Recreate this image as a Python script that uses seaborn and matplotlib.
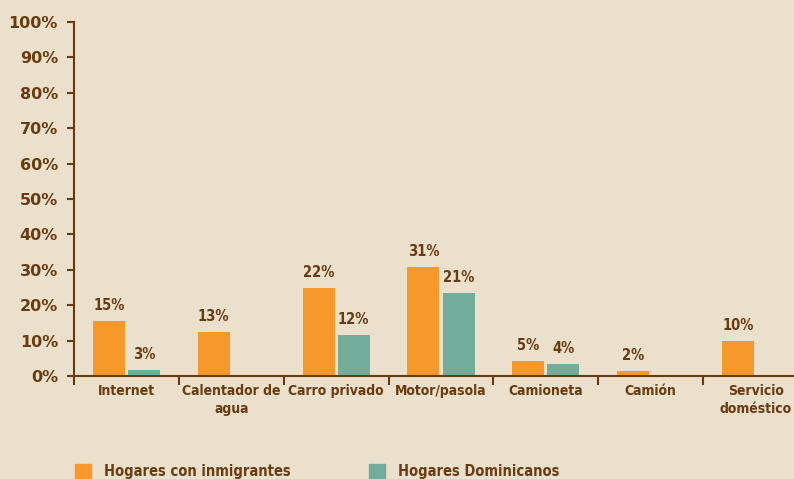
import numpy as np
import pandas as pd
import seaborn as sns
import matplotlib.pyplot as plt
from matplotlib.patches import Patch

categories = ['Internet', 'Calentador de\nagua', 'Carro privado', 'Motor/pasola',
              'Camioneta', 'Camión', 'Servicio\ndoméstico']
inmigrantes = [15.5, 12.4, 24.9, 30.8, 4.2, 1.4, 9.9]
dominicanos = [1.7, np.nan, 11.6, 23.4, 3.4, np.nan, np.nan]
lab_inm = ['15%', '13%', '22%', '31%', '5%', '2%', '10%']
lab_dom = ['3%', '', '12%', '21%', '4%', '', '']
series = ['Hogares con inmigrantes', 'Hogares Dominicanos']

bg = '#EAE0CB'
brown = '#6A3B10'
orange = '#F6982A'
teal = '#72AC9A'
narrow = dict(family='DejaVu Sans', stretch='condensed', weight='bold')

df = pd.DataFrame({
    'cat': categories * 2,
    'val': inmigrantes + dominicanos,
    'serie': [series[0]] * 7 + [series[1]] * 7,
})

sns.set_style('ticks')
fig = plt.figure(figsize=(7.94, 4.79), dpi=100, facecolor=bg)
ax = fig.add_axes([74 / 794, 103 / 479, 734 / 794, 354 / 479])
ax.set_facecolor(bg)

sns.barplot(data=df, x='cat', y='val', hue='serie', palette=[orange, teal],
            width=0.67, gap=0.09, saturation=1, legend=False, linewidth=0, ax=ax)

# etiquetas de valor
for i in range(len(categories)):
    ax.text(i - 0.1675, inmigrantes[i] + 2.2, lab_inm[i], ha='center', va='bottom',
            color=brown, fontsize=10.5, **narrow)
    if lab_dom[i]:
        ax.text(i + 0.1675, dominicanos[i] + 2.2, lab_dom[i], ha='center', va='bottom',
                color=brown, fontsize=10.5, **narrow)

ax.set_xlim(-0.5, 6.5)
ax.set_ylim(0, 100)
ax.set_yticks(range(0, 101, 10))
ax.set_yticklabels([f'{v}%' for v in range(0, 101, 10)], fontsize=11.5,
                   fontweight='bold', color=brown)
ax.set_xticks(np.arange(-0.5, 7, 1))
ax.set_xticklabels([])
ax.set_xticks(range(7), minor=True)
ax.set_xticklabels(categories, minor=True, fontsize=10, color=brown,
                   linespacing=1.3, **narrow)
ax.tick_params(axis='x', which='minor', length=0, pad=6)
ax.tick_params(axis='x', which='major', length=6.5, width=1.5, color=brown)
ax.tick_params(axis='y', length=5, width=1.5, color=brown, pad=6.5)
ax.set_xlabel('')
ax.set_ylabel('')
sns.despine(ax=ax)
for s in ['left', 'bottom']:
    ax.spines[s].set_color(brown)
    ax.spines[s].set_linewidth(1.5)

handles = [Patch(color=orange), Patch(color=teal)]
fig.legend(handles, series, loc='upper left', bbox_to_anchor=(75 / 794, 15 / 479),
           ncol=2, frameon=False, handlelength=1.1, handleheight=1.1,
           handletextpad=0.9, columnspacing=5.35, borderaxespad=0, borderpad=0,
           prop=dict(size=10.5, **narrow), labelcolor=brown)

fig.savefig('out.png', dpi=100, facecolor=bg)
